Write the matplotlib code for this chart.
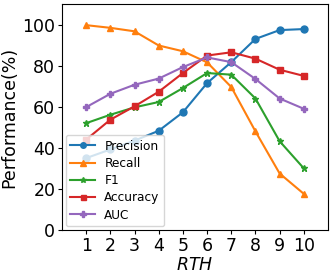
import matplotlib
matplotlib.use('Agg')
import matplotlib.pyplot as plt

rth = [1, 2, 3, 4, 5, 6, 7, 8, 9, 10]
precision = [35, 39.2, 43.5, 48.3, 57.3, 71.5, 81.7, 93, 97.3, 97.8]
recall = [99.7, 98.4, 96.7, 89.8, 87, 81.6, 69.6, 48, 27.5, 17.6]
f1 = [52, 56.1, 59.7, 62.3, 69.1, 76.4, 75.6, 64, 43.2, 30]
accuracy = [44, 53.7, 60.2, 67.3, 76.4, 84.9, 86.5, 83.4, 78, 75]
auc = [59.8, 66.3, 70.7, 73.7, 79.3, 84, 81.7, 73.5, 64, 59]

fig = plt.figure(figsize=(3.32, 2.76), dpi=100)
ax = fig.add_axes([62/332, 1-230/276, 266/332, 226/276])

ax.plot(rth, precision, marker='o', markersize=5, label='Precision')
ax.plot(rth, recall, marker='^', markersize=5, label='Recall')
ax.plot(rth, f1, marker='*', markersize=5, label='F1')
ax.plot(rth, accuracy, marker='s', markersize=4.5, label='Accuracy')
ax.plot(rth, auc, marker='P', markersize=5, label='AUC')

ax.set_xlim(0, 11)
ax.set_ylim(0, 110)
ax.set_xticks(rth)
ax.set_yticks([0, 20, 40, 60, 80, 100])
ax.tick_params(labelsize=12.5, length=2.8, pad=2)
ax.set_xlabel('$RTH$', fontsize=12.5, labelpad=1)
ax.set_ylabel('Performance(%)', fontsize=12.5, labelpad=3)
ax.legend(loc='lower left', fontsize=8.7, borderaxespad=0.3,
          labelspacing=0.35, markerscale=0.8)

fig.savefig('out.png', dpi=100)
